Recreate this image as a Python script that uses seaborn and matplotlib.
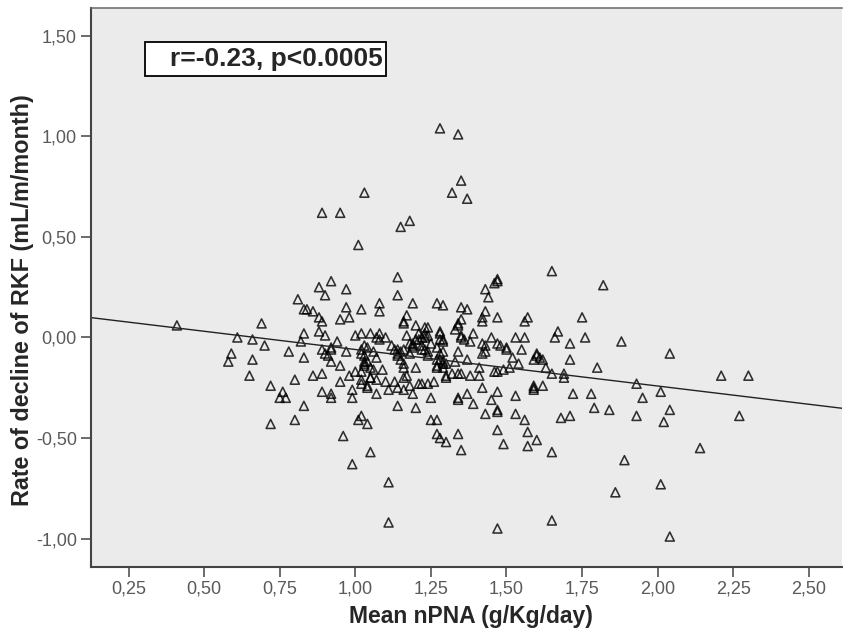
import numpy as np
import pandas as pd
import matplotlib
matplotlib.use("Agg")
import matplotlib.pyplot as plt
from matplotlib.patches import Rectangle
from matplotlib.ticker import FuncFormatter
import seaborn as sns

# valores (nPNA médio x taxa de declínio da RKF)
npna_top = [1.28, 1.34, 1.35, 1.32, 1.37, 0.89, 0.95, 1.03, 1.01, 1.15, 1.18, 1.14, 1.14,
            0.88, 0.92, 0.90, 0.97, 0.81, 0.83, 0.84, 0.86, 0.97, 1.02, 1.08, 1.08, 1.19,
            1.17, 1.27, 1.29, 0.88, 0.95, 0.98, 1.65, 1.47, 1.47, 1.46, 1.82, 1.43, 1.44,
            1.35, 1.37, 1.43, 1.35, 1.42, 1.47, 1.57, 1.75]
rkf_top = [1.04, 1.01, 0.78, 0.72, 0.69, 0.62, 0.62, 0.72, 0.46, 0.55, 0.58, 0.30, 0.21,
           0.25, 0.28, 0.21, 0.24, 0.19, 0.14, 0.14, 0.13, 0.15, 0.14, 0.17, 0.13, 0.17,
           0.11, 0.17, 0.16, 0.10, 0.09, 0.10, 0.33, 0.29, 0.28, 0.27, 0.26, 0.24, 0.20,
           0.15, 0.14, 0.13, 0.09, 0.10, 0.10, 0.10, 0.10]

npna_left = [0.41, 0.61, 0.66, 0.69, 0.70, 0.59, 0.58, 0.66, 0.65, 0.72, 0.76, 0.75, 0.77,
             0.72, 0.78, 0.80, 0.80, 0.83, 0.83, 0.82, 0.83, 0.86, 0.89, 0.89, 0.92, 0.92,
             0.96, 0.99, 1.01, 1.02, 1.04, 1.05, 1.11, 1.11, 0.99, 0.99, 0.95, 0.98, 1.00,
             1.07, 1.04, 1.14, 1.20, 1.25, 1.25, 1.27, 1.27, 1.28, 1.30, 1.11, 1.10, 1.14,
             1.16, 1.19, 1.18, 1.21, 1.24, 1.20, 1.16]
rkf_left = [0.06, 0.00, -0.01, 0.07, -0.04, -0.08, -0.12, -0.11, -0.19, -0.24, -0.27, -0.30,
            -0.30, -0.43, -0.07, -0.21, -0.41, -0.34, -0.10, -0.02, 0.02, -0.19, -0.18, -0.27,
            -0.28, -0.30, -0.49, -0.63, -0.41, -0.39, -0.43, -0.57, -0.72, -0.92, -0.30, -0.26,
            -0.22, -0.19, -0.17, -0.28, -0.25, -0.34, -0.35, -0.30, -0.41, -0.41, -0.48, -0.50,
            -0.52, -0.26, -0.22, -0.25, -0.26, -0.28, -0.24, -0.23, -0.23, -0.15, -0.20]

npna_mid = [0.89, 1.16, 1.16, 1.20, 1.24, 0.88, 0.90, 0.94, 0.92, 1.00, 1.02, 1.05, 1.07,
            1.08, 1.08, 1.17, 1.21, 1.22, 1.24, 1.28, 1.28, 0.89, 0.90, 0.91, 0.92, 0.95,
            0.97, 1.02, 1.03, 1.04, 1.03, 1.03, 1.03, 1.05, 1.06, 1.02, 1.02, 1.05, 1.04,
            1.07, 1.09, 1.12, 1.13, 1.14, 1.16, 1.14, 1.15, 1.16, 1.18, 1.19, 1.22, 1.23,
            1.24, 1.27, 1.28, 1.27, 1.29, 1.30, 1.20, 1.18, 1.21]
rkf_mid = [0.08, 0.07, 0.08, 0.06, 0.05, 0.03, 0.01, -0.02, -0.05, 0.01, 0.02, 0.02, 0.00,
           0.02, -0.01, 0.01, 0.02, 0.00, 0.01, 0.02, -0.01, -0.06, -0.08, -0.09, -0.12, -0.14,
           -0.07, -0.06, -0.04, -0.05, -0.09, -0.12, -0.14, -0.15, -0.16, -0.17, -0.21, -0.20,
           -0.24, -0.10, -0.16, -0.04, -0.06, -0.06, -0.06, -0.09, -0.11, -0.13, -0.08, -0.04,
           -0.04, -0.06, -0.09, -0.11, -0.11, -0.14, -0.15, -0.20, -0.01, -0.03, -0.01]

npna_right = [1.34, 1.33, 1.39, 1.45, 1.53, 1.56, 1.66, 1.67, 1.76, 1.88, 1.71, 2.04, 1.48,
              1.50, 1.43, 1.42, 1.55, 1.52, 1.54, 1.60, 1.59, 1.62, 1.71, 1.80, 1.63, 1.65,
              1.69, 1.69, 1.46, 1.47, 1.49, 1.51, 2.21, 2.30, 1.93, 2.01, 1.59, 1.59, 1.59,
              1.62, 1.72, 1.78, 1.95, 1.53, 1.47, 1.42, 1.45, 1.37, 1.34, 1.34, 1.39, 1.79,
              1.84, 2.04, 1.93, 2.27, 2.02, 1.71, 1.68, 1.47, 1.47, 1.43, 1.53, 1.56, 1.47,
              1.57, 1.34, 1.49, 1.60, 1.57, 1.35, 1.65, 2.14, 1.89, 2.01, 1.86, 1.65, 1.47,
              2.04]
rkf_right = [0.06, 0.04, 0.02, 0.00, 0.00, 0.00, 0.00, 0.03, 0.00, -0.02, -0.03, -0.08, -0.04,
             -0.06, -0.04, -0.08, -0.06, -0.10, -0.13, -0.09, -0.11, -0.11, -0.11, -0.15, -0.15,
             -0.18, -0.18, -0.20, -0.17, -0.17, -0.16, -0.15, -0.19, -0.19, -0.23, -0.27, -0.25,
             -0.26, -0.24, -0.24, -0.28, -0.28, -0.30, -0.29, -0.27, -0.25, -0.31, -0.28, -0.30,
             -0.31, -0.33, -0.35, -0.36, -0.36, -0.39, -0.39, -0.42, -0.39, -0.40, -0.36, -0.37,
             -0.38, -0.38, -0.41, -0.46, -0.47, -0.48, -0.53, -0.51, -0.54, -0.56, -0.57, -0.55,
             -0.61, -0.73, -0.77, -0.91, -0.95, -0.99]

npna_dense = [1.23, 1.23, 1.29, 1.35, 1.36, 1.38, 1.34, 1.33, 1.37, 1.30, 1.32, 1.34, 1.35,
              1.38, 1.41, 1.41, 1.26, 1.22, 1.23, 1.19, 1.25, 1.28, 1.29, 1.27, 1.34, 1.35,
              1.42, 1.56, 1.42, 1.43, 1.47, 1.50, 1.60, 1.61, 1.10, 0.92, 1.02, 1.06, 1.19,
              1.22, 1.24, 1.28, 1.29, 1.16, 1.17, 1.29, 1.27, 1.05, 1.02, 1.07, 1.13, 1.15,
              1.14, 1.03, 1.04, 1.29, 1.30]
rkf_dense = [0.02, 0.05, -0.01, 0.00, -0.01, -0.02, -0.07, -0.12, -0.11, -0.19, -0.18, -0.18,
             -0.18, -0.19, -0.15, -0.19, -0.22, -0.23, 0.00, -0.03, -0.03, 0.03, -0.02, -0.05,
             0.07, 0.01, 0.08, 0.08, -0.03, -0.07, -0.03, -0.05, -0.08, -0.10, 0.00, -0.06,
             -0.08, -0.07, -0.05, -0.06, -0.07, -0.08, -0.07, -0.15, -0.19, -0.13, -0.15, -0.20,
             -0.23, -0.21, -0.22, -0.07, -0.08, -0.13, -0.12, -0.12, -0.13]

x_ticks = [0.25, 0.50, 0.75, 1.00, 1.25, 1.50, 1.75, 2.00, 2.25, 2.50]
y_ticks = [-1.00, -0.50, 0.00, 0.50, 1.00, 1.50]
anotacao = "r=-0.23, p<0.0005"

df = pd.DataFrame({
    "npna": npna_top + npna_left + npna_mid + npna_right + npna_dense,
    "rkf": rkf_top + rkf_left + rkf_mid + rkf_right + rkf_dense,
})

sns.set_style("white")
plt.rcParams["font.family"] = ["Liberation Sans", "DejaVu Sans"]

fig = plt.figure(figsize=(8.43, 6.32), dpi=100)
ax = fig.add_axes([0.1076, 0.1033, 0.8914, 0.8836])
ax.set_facecolor("#ebebeb")
ax.set_xlim(0.125, 2.61)
ax.set_ylim(-1.14, 1.637)

sns.regplot(data=df, x="npna", y="rkf", ax=ax, ci=None, truncate=False, marker="^",
            scatter_kws=dict(s=42, facecolors="none", edgecolors="black", linewidths=1.15),
            line_kws=dict(color="#222222", lw=1.0))
ax.set_xlim(0.125, 2.61)
ax.set_ylim(-1.14, 1.637)

ax.set_xticks(x_ticks)
ax.set_yticks(y_ticks)
virgula = FuncFormatter(lambda v, p: f"{v:.2f}".replace(".", ","))
ax.xaxis.set_major_formatter(virgula)
ax.yaxis.set_major_formatter(virgula)
ax.tick_params(axis="both", direction="out", length=7, width=1.1, color="#444444",
               labelsize=13, labelcolor="#5a5a5a", pad=3)
ax.tick_params(bottom=True, left=True)

for lado in ["left", "bottom"]:
    ax.spines[lado].set_color("#444444")
    ax.spines[lado].set_linewidth(1.5)
ax.spines["top"].set_color("#666666")
ax.spines["top"].set_linewidth(1.1)
ax.spines["right"].set_visible(False)

ax.set_xlabel("Mean nPNA (g/Kg/day)", fontsize=16.5, fontweight="bold")
ax.set_ylabel("Rate of decline of RKF (mL/m/month)", fontsize=16.8, fontweight="bold")
ax.xaxis.set_label_coords(0.506, -0.068)
ax.yaxis.set_label_coords(-0.075, 0.478)

# caixa da anotação
ax.add_patch(Rectangle((0.0722, 0.8788), 0.3205, 0.0608, transform=ax.transAxes,
                       facecolor="white", edgecolor="black", lw=1.3, zorder=5))
ax.text(0.3885, 0.9092, anotacao, transform=ax.transAxes, ha="right", va="center",
        fontsize=19, fontweight="bold", zorder=6)

fig.savefig("out.png", dpi=100)
